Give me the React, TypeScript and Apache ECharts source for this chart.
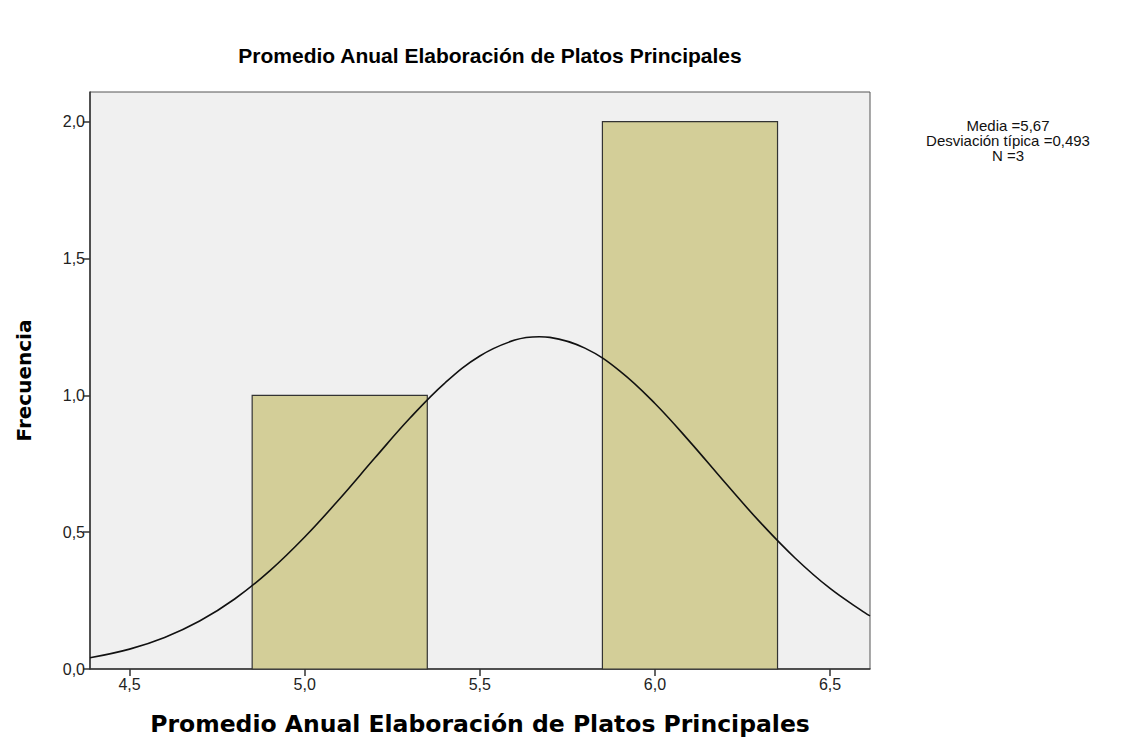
import React, { useEffect, useRef } from "react";
import * as echarts from "echarts";

const titleText = "Promedio Anual Elaboración de Platos Principales";
const xAxisName = "Promedio Anual Elaboración de Platos Principales";
const yAxisName = "Frecuencia";

const binStart = [4.85, 5.85];
const binEnd = [5.35, 6.35];
const counts = [1, 2];

const xTicks = [4.5, 5.0, 5.5, 6.0, 6.5];
const yTicks = [0, 0.5, 1.0, 1.5, 2.0];

const curveX = [4.387, 4.5, 4.6, 4.7, 4.8, 4.9, 5.0, 5.1, 5.2, 5.3, 5.4, 5.5, 5.6, 5.67, 5.7, 5.8, 5.9, 6.0, 6.1, 6.2, 6.3, 6.4, 6.5, 6.6, 6.614];
const curveY = [0.041, 0.0726, 0.1152, 0.1752, 0.2558, 0.3584, 0.4821, 0.6221, 0.7706, 0.9159, 1.0447, 1.1437, 1.2016, 1.2138, 1.2116, 1.1723, 1.0886, 0.9702, 0.8298, 0.6811, 0.5365, 0.4056, 0.2942, 0.2049, 0.194];

const statsLines = ["Media =5,67", "Desviación típica =0,493", "N =3"];

const fmt = (v: number) => v.toFixed(1).replace(".", ",");

export default function App() {
  const ref = useRef<HTMLDivElement>(null);
  useEffect(() => {
    if (!ref.current) return;
    const chart = echarts.init(ref.current, null, { renderer: "svg" });
    const font = "'Liberation Sans', Arial, sans-serif";
    const wide = "'DejaVu Sans', Verdana, sans-serif";
    chart.setOption({
      animation: false,
      backgroundColor: "#ffffff",
      textStyle: { fontFamily: font },
      title: {
        text: titleText,
        left: 485,
        top: 40,
        textAlign: "center",
        textStyle: { fontSize: 21, fontWeight: "bold", color: "#000", fontFamily: font },
      },
      grid: {
        left: 90,
        right: 254,
        top: 92,
        bottom: 75,
        show: true,
        backgroundColor: "#f0f0f0",
        borderColor: "#555",
        borderWidth: 1,
      },
      xAxis: {
        type: "value",
        min: 4.387,
        max: 6.614,
        name: xAxisName,
        nameLocation: "middle",
        nameGap: 43,
        nameTextStyle: { fontSize: 23.5, fontWeight: "bold", color: "#000", fontFamily: wide },
        axisLine: { show: true, lineStyle: { color: "#333", width: 1.5 } },
        axisTick: { show: true, length: 7, customValues: xTicks, lineStyle: { color: "#333", width: 1.5 } },
        axisLabel: { customValues: xTicks, formatter: fmt, fontSize: 16, color: "#222", margin: 7, fontFamily: font },
        splitLine: { show: false },
      },
      yAxis: {
        type: "value",
        min: 0,
        max: 2.108,
        name: yAxisName,
        nameLocation: "middle",
        nameGap: 56,
        nameTextStyle: { fontSize: 20, fontWeight: "bold", color: "#000", fontFamily: wide },
        axisLine: { show: true, lineStyle: { color: "#333", width: 1.5 } },
        axisTick: { show: true, length: 7, customValues: yTicks, lineStyle: { color: "#333", width: 1.5 } },
        axisLabel: { customValues: yTicks, formatter: fmt, fontSize: 16, color: "#222", margin: 5, fontFamily: font },
        splitLine: { show: false },
      },
      graphic: [
        {
          type: "text",
          x: 1008,
          y: 118,
          style: {
            text: statsLines.join("\n"),
            fontSize: 15,
            lineHeight: 15,
            fill: "#111",
            align: "center",
            verticalAlign: "top",
            fontFamily: font,
          },
        },
      ],
      series: [
        {
          type: "custom",
          data: binStart.map((s, i) => [s, binEnd[i], counts[i]]),
          renderItem: (params: any, api: any) => {
            const p0 = api.coord([api.value(0), api.value(2)]);
            const p1 = api.coord([api.value(1), 0]);
            return {
              type: "rect",
              shape: { x: p0[0], y: p0[1], width: p1[0] - p0[0], height: p1[1] - p0[1] },
              style: { fill: "#d3ce98", stroke: "#333", lineWidth: 1.2 },
            };
          },
          z: 2,
        },
        {
          type: "line",
          data: curveX.map((x, i) => [x, curveY[i]]),
          smooth: 0.4,
          showSymbol: false,
          symbol: "none",
          lineStyle: { color: "#111", width: 1.6 },
          z: 3,
        },
      ],
    });
    return () => chart.dispose();
  }, []);
  return <div ref={ref} style={{ position: "fixed", left: 0, top: 0, width: 1124, height: 744 }} />;
}
